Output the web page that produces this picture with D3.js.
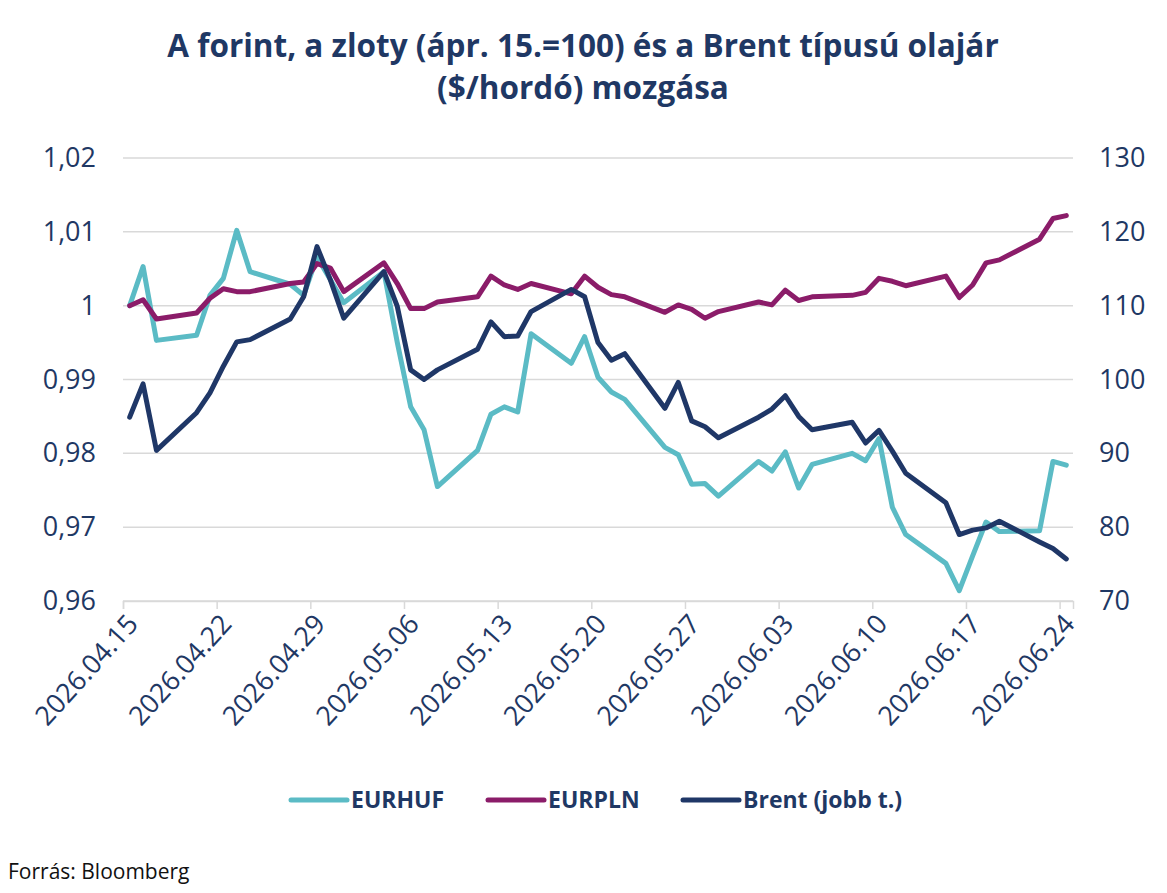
<!DOCTYPE html>
<html>
<head>
<meta charset="utf-8">
<script src="https://cdn.jsdelivr.net/npm/d3@7"></script>
<style>
  body { margin: 0; background: #fff; }
  svg { display: block; font-family: 'Open Sans', sans-serif; }
</style>
</head>
<body>
<div id="chart"></div>
<script>
// napok (kereskedési napok)
const dates = [
  '2026-04-15', '2026-04-16', '2026-04-17', '2026-04-20', '2026-04-21', '2026-04-22', '2026-04-23', '2026-04-24',
  '2026-04-27', '2026-04-28', '2026-04-29', '2026-04-30', '2026-05-01', '2026-05-04', '2026-05-05', '2026-05-06',
  '2026-05-07', '2026-05-08', '2026-05-11', '2026-05-12', '2026-05-13', '2026-05-14', '2026-05-15', '2026-05-18',
  '2026-05-19', '2026-05-20', '2026-05-21', '2026-05-22', '2026-05-25', '2026-05-26', '2026-05-27', '2026-05-28',
  '2026-05-29', '2026-06-01', '2026-06-02', '2026-06-03', '2026-06-04', '2026-06-05', '2026-06-08', '2026-06-09',
  '2026-06-10', '2026-06-11', '2026-06-12', '2026-06-15', '2026-06-16', '2026-06-17', '2026-06-18', '2026-06-19',
  '2026-06-22', '2026-06-23', '2026-06-24'
]

const eurhuf = [
  1.0000, 1.0053, 0.9953, 0.9960, 1.0014, 1.0037, 1.0102, 1.0046,
  1.0029, 1.0014, 1.0066, 1.0035, 1.0004, 1.0046, 0.9950, 0.9863,
  0.9832, 0.9755, 0.9804, 0.9853, 0.9863, 0.9856, 0.9962, 0.9922,
  0.9958, 0.9903, 0.9883, 0.9873, 0.9808, 0.9798, 0.9758, 0.9759,
  0.9742, 0.9789, 0.9776, 0.9802, 0.9753, 0.9785, 0.9800, 0.9790,
  0.9820, 0.9727, 0.9690, 0.9651, 0.9614, 0.9661, 0.9707, 0.9694,
  0.9695, 0.9789, 0.9784
]

const eurpln = [
  1.0000, 1.0008, 0.9982, 0.9990, 1.0010, 1.0023, 1.0019, 1.0019,
  1.0030, 1.0032, 1.0057, 1.0051, 1.0019, 1.0058, 1.0030, 0.9996,
  0.9996, 1.0005, 1.0012, 1.0040, 1.0028, 1.0022, 1.0030, 1.0016,
  1.0040, 1.0025, 1.0015, 1.0012, 0.9991, 1.0001, 0.9995, 0.9983,
  0.9992, 1.0005, 1.0001, 1.0021, 1.0007, 1.0012, 1.0014, 1.0018,
  1.0037, 1.0033, 1.0027, 1.0040, 1.0011, 1.0028, 1.0058, 1.0062,
  1.0090, 1.0118, 1.0122
]

const brent = [
  94.9, 99.4, 90.4, 95.5, 98.2, 101.8, 105.1, 105.4,
  108.2, 111.2, 118.0, 113.5, 108.3, 114.6, 109.9, 101.3,
  100.0, 101.3, 104.1, 107.8, 105.8, 105.9, 109.2, 112.2,
  111.2, 105.0, 102.6, 103.5, 96.1, 99.6, 94.4, 93.6,
  92.1, 94.9, 96.0, 97.8, 95.0, 93.2, 94.2, 91.4,
  93.1, 90.3, 87.3, 83.3, 79.0, 79.6, 79.9, 80.8,
  78.0, 77.1, 75.7
]

const xTicks = ['2026-04-15', '2026-04-22', '2026-04-29', '2026-05-06', '2026-05-13', '2026-05-20',
  '2026-05-27', '2026-06-03', '2026-06-10', '2026-06-17', '2026-06-24']
const leftTicks = [0.96, 0.97, 0.98, 0.99, 1.00, 1.01, 1.02]
const rightTicks = [70, 80, 90, 100, 110, 120, 130]

const seriesNames = ['EURHUF', 'EURPLN', 'Brent (jobb t.)']
const colors = ['#5BBBC5', '#8B1C69', '#1F3767']
const navy = '#1F3864'

const W = 1167
const H = 893
const margin = { top: 158, left: 123, right: 94, bottom: 292 }
const width = W - margin.left - margin.right
const height = H - margin.top - margin.bottom

const parse = d3.utcParse('%Y-%m-%d')

const svg = d3
  .select('#chart')
  .append('svg')
  .attr('width', W)
  .attr('height', H)

const g = svg.append('g').attr('transform', 'translate(' + margin.left + ',' + margin.top + ')')

const xPositionScale = d3
  .scaleUtc()
  .domain([parse('2026-04-15'), parse('2026-06-25')])
  .range([0, width])

const yLeft = d3.scaleLinear().domain([0.96, 1.02]).range([height, 0])
const yRight = d3.scaleLinear().domain([70, 130]).range([height, 0])

// gridlines
g.append('g')
  .selectAll('line')
  .data(leftTicks)
  .enter()
  .append('line')
  .attr('x1', 0)
  .attr('x2', width)
  .attr('y1', d => yLeft(d))
  .attr('y2', d => yLeft(d))
  .attr('stroke', '#D9D9D9')
  .attr('stroke-width', 1.5)

// x axis
const xAxis = d3
  .axisBottom(xPositionScale)
  .tickValues(xTicks.map(parse))
  .tickSize(8)
  .tickFormat(d3.utcFormat('%Y.%m.%d'))

const xg = g
  .append('g')
  .attr('class', 'axis x-axis')
  .attr('transform', 'translate(0,' + height + ')')
  .call(xAxis)

xg.select('.domain').attr('stroke', '#D9D9D9').attr('stroke-width', 1.5)
xg.selectAll('.tick line').attr('stroke', '#D9D9D9').attr('stroke-width', 1.5)
xg.selectAll('.tick text')
  .attr('fill', navy)
  .attr('font-size', '27px')
  .attr('font-family', "'Open Sans', sans-serif")
  .style('text-anchor', 'end')
  .attr('y', 0)
  .attr('dy', 0)
  .attr('transform', 'translate(16,24) rotate(-48)')

// left axis
const yAxisL = d3.axisLeft(yLeft).tickValues(leftTicks).tickSize(0).tickPadding(27)
  .tickFormat(d => d3.format('.2f')(d).replace('.', ',').replace(/^1,00$/, '1'))
const yl = g.append('g').attr('class', 'axis y-axis').call(yAxisL)
yl.select('.domain').remove()
yl.selectAll('text').attr('fill', navy).attr('font-size', '27px').attr('font-family', "'Open Sans', sans-serif")

// right axis
const yAxisR = d3.axisRight(yRight).tickValues(rightTicks).tickSize(0).tickPadding(26)
const yr = g.append('g').attr('class', 'axis y-axis').attr('transform', 'translate(' + width + ',0)').call(yAxisR)
yr.select('.domain').remove()
yr.selectAll('text').attr('fill', navy).attr('font-size', '27px').attr('font-family', "'Open Sans', sans-serif")

// lines
const rows = dates.map((d, i) => ({ date: d3.utcHour.offset(parse(d), 12), huf: eurhuf[i], pln: eurpln[i], brent: brent[i] }))

const lineLeft = key => d3.line().x(d => xPositionScale(d.date)).y(d => yLeft(d[key]))
const lineRight = d3.line().x(d => xPositionScale(d.date)).y(d => yRight(d.brent))

g.append('path').datum(rows).attr('d', lineLeft('huf'))
  .attr('fill', 'none').attr('stroke', colors[0]).attr('stroke-width', 5).attr('stroke-linejoin', 'round').attr('stroke-linecap', 'round')
g.append('path').datum(rows).attr('d', lineLeft('pln'))
  .attr('fill', 'none').attr('stroke', colors[1]).attr('stroke-width', 5).attr('stroke-linejoin', 'round').attr('stroke-linecap', 'round')
g.append('path').datum(rows).attr('d', lineRight)
  .attr('fill', 'none').attr('stroke', colors[2]).attr('stroke-width', 5).attr('stroke-linejoin', 'round').attr('stroke-linecap', 'round')

// title
const title = svg.append('text')
  .attr('text-anchor', 'middle')
  .attr('fill', navy)
  .attr('font-weight', 700)
  .attr('font-size', '31.5px')
title.append('tspan').attr('x', 583).attr('y', 57).text('A forint, a zloty (ápr. 15.=100) és a Brent típusú olajár')
title.append('tspan').attr('x', 583).attr('y', 99).text('($/hordó) mozgása')

// legend
const legendX = [291, 488, 683]
const legend = svg.append('g')
seriesNames.forEach((name, i) => {
  legend.append('line')
    .attr('x1', legendX[i]).attr('x2', legendX[i] + 56)
    .attr('y1', 800).attr('y2', 800)
    .attr('stroke', colors[i]).attr('stroke-width', 5).attr('stroke-linecap', 'round')
  legend.append('text')
    .attr('x', legendX[i] + 60).attr('y', 800)
    .attr('dy', '0.35em')
    .attr('fill', navy)
    .attr('font-weight', 700)
    .attr('font-size', '23px')
    .text(name)
})

svg.append('text')
  .attr('x', 8).attr('y', 879)
  .attr('fill', '#111')
  .attr('font-size', '21px')
  .text('Forrás: Bloomberg')
</script>
</body>
</html>
